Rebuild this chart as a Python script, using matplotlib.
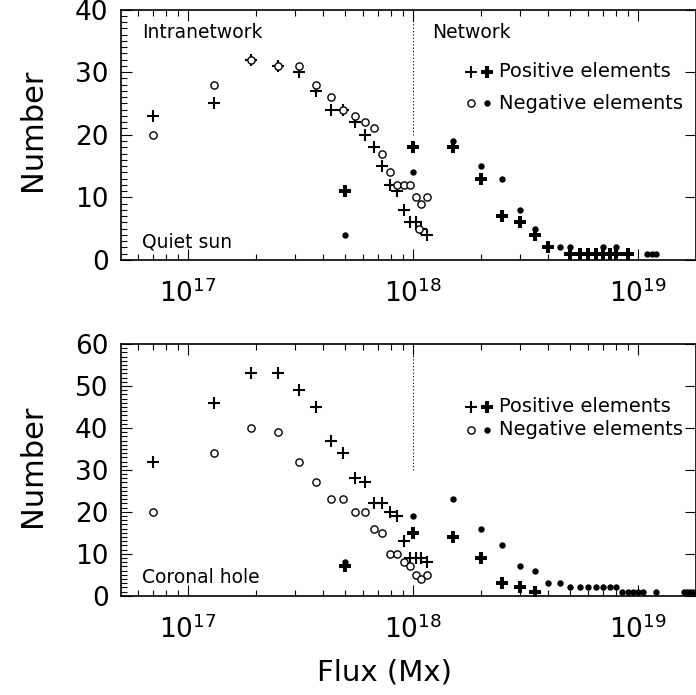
import matplotlib
matplotlib.use("Agg")
import matplotlib.pyplot as plt
from matplotlib.ticker import LogLocator, MultipleLocator, NullFormatter, FixedLocator, FixedFormatter

plt.rcParams["font.family"] = ["DejaVu Sans"]
plt.rcParams["mathtext.fontset"] = "dejavusans"

UNIT = 1e17  # flux bins below are in units of 1e17 Mx

# ---- intranetwork bins (open symbols) ----
in_flux = [0.7, 1.3, 1.9, 2.5, 3.1, 3.7, 4.3, 4.9, 5.5, 6.1, 6.7, 7.3, 7.9, 8.5,
           9.1, 9.7, 10.3, 10.9, 11.5]

qs_in_pos = [23, 25, 32, 31, 30, 27, 24, 24, 22, 20, 18, 15, 12, 11, 8, 6, 6, 5, 4]
qs_in_neg_flux = [0.7, 1.3, 1.9, 2.5, 3.1, 3.7, 4.3, 4.9, 5.5, 6.1, 6.7, 7.3, 7.9,
                  8.5, 9.1, 9.7, 10.3, 10.6, 10.9, 11.5]
qs_in_neg = [20, 28, 32, 31, 31, 28, 26, 24, 23, 22, 21, 17, 14, 12, 12, 12, 10, 5, 9, 10]

ch_in_pos = [32, 46, 53, 53, 49, 45, 37, 34, 28, 27, 22, 22, 20, 19, 13, 9, 9, 9, 8]
ch_in_neg_flux = in_flux
ch_in_neg = [20, 34, 40, 39, 32, 27, 23, 23, 20, 20, 16, 15, 10, 10, 8, 7, 5, 4, 5]

# ---- network bins (filled symbols) ----
qs_net_pos_flux = [5, 10, 15, 20, 25, 30, 35, 40, 50, 55, 60, 65, 70, 75, 80, 90]
qs_net_pos = [11, 18, 18, 13, 7, 6, 4, 2, 1, 1, 1, 1, 1, 1, 1, 1]
qs_net_neg_flux = [5, 10, 15, 20, 25, 30, 35, 45, 50, 70, 80, 110, 115, 120]
qs_net_neg = [4, 14, 19, 15, 13, 8, 5, 2, 2, 2, 2, 1, 1, 1]

ch_net_pos_flux = [5, 10, 15, 20, 25, 30, 35]
ch_net_pos = [7, 15, 14, 9, 3, 2, 1]
ch_net_neg_flux = [5, 10, 15, 20, 25, 30, 35, 40, 45, 50, 55, 60, 65, 70, 75, 80,
                   85, 90, 95, 100, 105, 120, 160, 165, 170, 175]
ch_net_neg = [8, 19, 23, 16, 12, 7, 6, 3, 3, 2, 2, 2, 2, 2, 2, 2,
              1, 1, 1, 1, 1, 1, 1, 1, 1, 1]

x_ticks = [1e17, 1e18, 1e19]
x_tick_labels = [r"$10^{17}$", r"$10^{18}$", r"$10^{19}$"]
x_limits = (10 ** 16.702, 10 ** 19.256)
boundary = 1e18

W, H = 696, 695
fig = plt.figure(figsize=(W / 100, H / 100), dpi=100)

panels = [
    dict(rect=[121 / W, 1 - 260 / H, 574.5 / W, 250.5 / H], ylim=(0, 40),
         yticks=[0, 10, 20, 30, 40], divider=(20, 40), name="Quiet sun",
         in_pos=qs_in_pos, in_neg_flux=qs_in_neg_flux, in_neg=qs_in_neg,
         net_pos_flux=qs_net_pos_flux, net_pos=qs_net_pos,
         net_neg_flux=qs_net_neg_flux, net_neg=qs_net_neg,
         region_labels=True, legend_y=(0.752, 0.626), name_y=0.072,
         ylabel_y=1 - 130 / H),
    dict(rect=[121 / W, 1 - 595.8 / H, 574.5 / W, 251.8 / H], ylim=(0, 60),
         yticks=[0, 10, 20, 30, 40, 50, 60], divider=(30, 60), name="Coronal hole",
         in_pos=ch_in_pos, in_neg_flux=ch_in_neg_flux, in_neg=ch_in_neg,
         net_pos_flux=ch_net_pos_flux, net_pos=ch_net_pos,
         net_neg_flux=ch_net_neg_flux, net_neg=ch_net_neg,
         region_labels=False, legend_y=(0.751, 0.659), name_y=0.071,
         ylabel_y=1 - 466 / H),
]

thin_plus = dict(marker="+", ms=8, mew=1.5, color="black", ls="none")
thick_plus = dict(marker="P", ms=8, mew=0, color="black", ls="none")
open_circ = dict(marker="o", ms=5.2, mew=1.0, mfc="white", mec="black", ls="none")
dot = dict(marker="o", ms=4.6, mew=0, color="black", ls="none")

for p in panels:
    ax = fig.add_axes(p["rect"])
    ax.set_xscale("log")
    ax.set_xlim(*x_limits)
    ax.set_ylim(*p["ylim"])

    ax.plot([f * UNIT for f in in_flux], p["in_pos"], **thin_plus)
    ax.plot([f * UNIT for f in p["in_neg_flux"]], p["in_neg"], **open_circ)
    ax.plot([f * UNIT for f in p["net_neg_flux"]], p["net_neg"], **dot)
    ax.plot([f * UNIT for f in p["net_pos_flux"]], p["net_pos"], **thick_plus)

    ax.plot([boundary, boundary], p["divider"], ls=(0, (1, 2)), lw=0.8, color="black")

    # axes styling: inward ticks on every side
    ax.xaxis.set_major_locator(FixedLocator(x_ticks))
    ax.xaxis.set_major_formatter(FixedFormatter(x_tick_labels))
    ax.xaxis.set_minor_locator(LogLocator(base=10, subs=range(2, 10), numticks=20))
    ax.xaxis.set_minor_formatter(NullFormatter())
    ax.yaxis.set_major_locator(FixedLocator(p["yticks"]))
    ax.yaxis.set_minor_locator(MultipleLocator(1))
    ax.tick_params(which="both", direction="in", top=True, right=True,
                   labelsize=19, width=0.8, colors="black")
    ax.tick_params(which="major", length=8)
    ax.tick_params(which="minor", length=4)
    ax.tick_params(which="minor", axis="y", right=False)
    ax.tick_params(axis="x", which="major", pad=14)
    ax.tick_params(axis="y", which="major", pad=9)
    for s in ax.spines.values():
        s.set_linewidth(1.2)

    # legend built from the marker styles
    lx = (0.609, 0.637, 0.658)
    yp, yn = p["legend_y"]
    ax.plot([lx[0]], [yp], transform=ax.transAxes, clip_on=False, **thin_plus)
    ax.plot([lx[1]], [yp], transform=ax.transAxes, clip_on=False, **thick_plus)
    ax.text(lx[2], yp, "Positive elements", transform=ax.transAxes,
            fontsize=14, va="center", ha="left")
    ax.plot([lx[0]], [yn], transform=ax.transAxes, clip_on=False, **open_circ)
    ax.plot([lx[1]], [yn], transform=ax.transAxes, clip_on=False, **dot)
    ax.text(lx[2], yn, "Negative elements", transform=ax.transAxes,
            fontsize=14, va="center", ha="left")

    ax.text(0.0366, p["name_y"], p["name"], transform=ax.transAxes,
            fontsize=13.5, va="center", ha="left")
    if p["region_labels"]:
        ax.text(0.0366, 0.910, "Intranetwork", transform=ax.transAxes,
                fontsize=13.5, va="center", ha="left")
        ax.text(0.5413, 0.910, "Network", transform=ax.transAxes,
                fontsize=13.5, va="center", ha="left")

    fig.text(33 / W, p["ylabel_y"], "Number", rotation=90, fontsize=22,
             ha="center", va="center")

fig.text(385 / W, 1 - 673 / H, "Flux (Mx)", fontsize=21, ha="center", va="center")

fig.savefig("out.png", dpi=100)
